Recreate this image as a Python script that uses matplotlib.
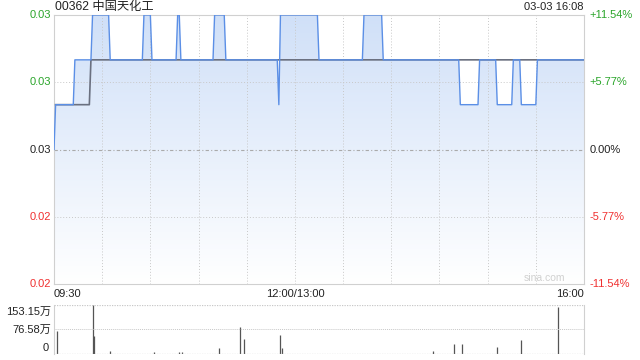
import numpy as np
import matplotlib
matplotlib.use('Agg')
import matplotlib.pyplot as plt
from matplotlib.colors import LinearSegmentedColormap

plt.rcParams['font.family'] = ['Liberation Sans', 'Noto Sans CJK SC', 'DejaVu Sans']

#---    Data (minutes since 09:30, lunch break removed)
title = '00362 中国天化工'
stamp = '03-03 16:08'
prev_close = 0.026

price_t = [0, 1, 12, 13, 23, 24, 34, 35, 55, 56, 60, 61, 76, 77, 78, 79, 99, 100, 106, 107,
           139, 140, 141, 164, 165, 192, 193, 204, 205, 252, 253, 264, 265, 275, 276, 285,
           286, 290, 291, 300, 301, 330]
price_v = [0.026, 0.027, 0.027, 0.028, 0.028, 0.029, 0.029, 0.028, 0.028, 0.029, 0.029, 0.028,
           0.028, 0.029, 0.029, 0.028, 0.028, 0.029, 0.029, 0.028, 0.028, 0.027, 0.029, 0.029,
           0.028, 0.028, 0.029, 0.029, 0.028, 0.028, 0.027, 0.027, 0.028, 0.028, 0.027, 0.027,
           0.028, 0.028, 0.027, 0.027, 0.028, 0.028]

avg_t = [1, 22, 23, 330]
avg_v = [0.027, 0.027, 0.028, 0.028]

vol_t = [2, 24, 25, 35, 62, 78, 80, 103, 116, 118, 141, 142, 236, 249, 254, 276, 291, 314]
vol_v = [72, 153, 56, 10, 5, 6, 5, 20, 85, 48, 60, 18, 8, 30, 30, 22, 43, 147]   # 万

pct_ticks = [-11.54, -5.77, 0.0, 5.77, 11.54]
left_labels = ['0.02', '0.02', '0.03', '0.03', '0.03']
right_labels = ['-11.54%', '-5.77%', '0.00%', '+5.77%', '+11.54%']
vol_ticks = [0, 76.58, 153.15]
vol_labels = ['0', '76.58万', '153.15万']

green = '#2aa52a'
red = '#f03030'
grid_c = '#c8c8c8'
fs = 8

fig = plt.figure(figsize=(6.4, 3.6), dpi=100)
ax = fig.add_axes([54/640, 1-284/360, 530/640, 269/360])
ax2 = fig.add_axes([54/640, 1-354/360, 530/640, 49/360])

ymin = prev_close*(1 + pct_ticks[0]/100)
ymax = prev_close*(1 + pct_ticks[-1]/100)

#---    Gradient fill under price line
cmap = LinearSegmentedColormap.from_list('fill', ['#ffffff', '#d0e0f8'])
grad = np.linspace(0, 1, 256).reshape(-1, 1)
im = ax.imshow(grad, cmap=cmap, aspect='auto', origin='lower',
               extent=[0, 330, ymin, ymax], zorder=1)
poly = ax.fill_between(price_t, price_v, ymin, color='none', lw=0)
im.set_clip_path(poly.get_paths()[0], transform=ax.transData)

ax.plot(avg_t, avg_v, color='#6a7080', lw=1.2, zorder=3)
ax.plot(price_t, price_v, color='#5b8fe6', lw=1.0, zorder=4)

ax.set_xlim(0, 330)
ax.set_ylim(ymin, ymax)
ax.set_xticks([])
ax.set_yticks([])
for x in range(30, 330, 30):
    ax.axvline(x, color=grid_c, lw=0.7, ls=(0, (1, 2)), zorder=2)
for p in pct_ticks[1:-1]:
    if p == 0:
        ax.axhline(prev_close, color='#aaaaaa', lw=0.8, ls=(0, (3, 2, 1, 2)), zorder=2)
    else:
        ax.axhline(prev_close*(1 + p/100), color=grid_c, lw=0.7, ls=(0, (1, 2)), zorder=2)
for s in ax.spines.values():
    s.set_color('#d0d0d0')

for p, ll, rl in zip(pct_ticks, left_labels, right_labels):
    y = prev_close*(1 + p/100)
    c = green if p > 0 else (red if p < 0 else '#222222')
    ax.text(-2, y, ll, ha='right', va='center', color=c, fontsize=fs)
    ax.text(333.5, y, rl, ha='left', va='center', color=c, fontsize=fs)

ax.text(0, ymin - 0.00012, '09:30', ha='left', va='top', fontsize=fs, color='#222222')
ax.text(150, ymin - 0.00012, '12:00/13:00', ha='center', va='top', fontsize=fs, color='#222222')
ax.text(330, ymin - 0.00012, '16:00', ha='right', va='top', fontsize=fs, color='#222222')
ax.text(318, ymin + 0.00003, 'sina.com', ha='right', va='bottom', fontsize=7.5, color='#d0d0d0')

fig.text(55/640, 1-7/360, title, ha='left', va='center', fontsize=8.8, color='#222222')
fig.text(584/640, 1-7/360, stamp, ha='right', va='center', fontsize=8, color='#222222')

#---    Volume
ax2.vlines(vol_t, 0, vol_v, color='#555555', lw=0.9)
ax2.set_xlim(0, 330)
ax2.set_ylim(0, 153.15)
ax2.set_xticks([])
ax2.set_yticks([])
ax2.axhline(76.58, color=grid_c, lw=0.7, ls=(0, (1, 1)))
ax2.axhline(153.15, color=grid_c, lw=0.9, ls=(0, (1, 1)))
ax2.axhline(0, color='#bbbbbb', lw=0.9, ls=(0, (1, 1)))
ax2.spines['top'].set_visible(False)
ax2.spines['bottom'].set_visible(False)
ax2.spines['left'].set_color('#d0d0d0')
ax2.spines['right'].set_color('#d0d0d0')
ax2.text(-1.5, 153.15 - 22, vol_labels[2], ha='right', va='center', fontsize=fs, color='#222222')
ax2.text(-1.5, 76.58, vol_labels[1], ha='right', va='center', fontsize=fs, color='#222222')
ax2.text(-3, 18, vol_labels[0], ha='right', va='center', fontsize=fs, color='#222222')

fig.savefig('out.png', dpi=100)
